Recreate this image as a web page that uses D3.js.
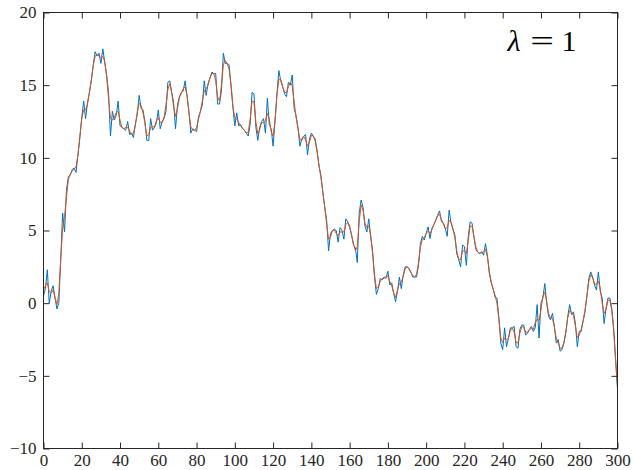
<!DOCTYPE html>
<html>
<head>
<meta charset="utf-8">
<script src="https://cdn.jsdelivr.net/npm/d3@7"></script>
<style>
  html, body { margin: 0; padding: 0; background: #fff; }
  svg { display: block; }
  .tick text { font-family: "Liberation Serif", "DejaVu Serif", serif; }
</style>
</head>
<body>
<svg id="chart" width="633" height="470"></svg>
<script>
// Noisy signal (blue) and its regularised estimate (orange), one value per sample 0..300
const noisy = [
  0.5, 1.0, 2.3, 0.0, 0.8, 1.2, 0.4, -0.4, 0.0, 3.0,
  6.2, 4.9, 7.8, 8.7, 8.8, 9.2, 9.3, 9.0, 10.2, 11.4,
  12.8, 13.9, 12.7, 13.8, 14.5, 15.3, 16.4, 17.3, 17.0, 17.2,
  16.5, 17.5, 16.6, 15.7, 14.5, 11.5, 13.2, 12.6, 12.9, 13.9,
  12.2, 12.1, 12.0, 11.9, 12.5, 11.6, 11.7, 11.4, 12.3, 13.0,
  14.3, 13.4, 13.3, 12.5, 11.2, 11.2, 12.7, 11.9, 12.1, 12.4,
  13.3, 12.0, 12.5, 12.7, 13.2, 15.2, 15.3, 14.5, 13.8, 12.0,
  13.6, 14.2, 14.5, 14.6, 15.3, 14.3, 13.2, 11.7, 12.0, 11.9,
  11.8, 12.8, 13.2, 13.6, 15.3, 14.3, 15.1, 15.5, 15.9, 15.8,
  15.8, 13.7, 13.7, 14.6, 17.2, 16.5, 16.5, 16.4, 15.0, 13.5,
  12.2, 13.1, 12.2, 12.3, 12.0, 11.9, 11.7, 11.5, 12.3, 14.5,
  14.4, 12.1, 11.2, 12.1, 12.5, 12.7, 11.7, 14.1, 12.3, 12.0,
  10.8, 12.5, 14.4, 16.0, 15.3, 14.9, 14.4, 14.2, 15.2, 15.0,
  15.7, 13.4, 12.9, 12.1, 10.8, 11.3, 11.5, 11.6, 10.2, 11.3,
  11.7, 11.5, 11.3, 10.5, 9.4, 8.8, 7.6, 6.6, 5.7, 3.6,
  4.8, 5.0, 5.1, 5.0, 4.2, 5.2, 5.0, 4.4, 5.8, 5.6,
  5.3, 4.7, 4.0, 3.8, 2.8, 6.2, 7.1, 6.6, 5.3, 4.9,
  5.8, 4.6, 3.6, 1.8, 0.6, 1.0, 1.7, 1.6, 1.8, 1.7,
  2.2, 1.25, 1.4, 0.7, 0.1, 0.8, 1.8, 1.0, 1.95, 2.5,
  2.5, 2.4, 2.15, 1.8, 1.8, 1.8, 2.6, 4.1, 4.6, 4.35,
  4.8, 5.25, 4.45, 5.15, 5.4, 5.7, 6.05, 6.35, 5.6, 5.5,
  5.15, 4.6, 6.4, 5.5, 5.1, 4.7, 3.4, 3.0, 2.5, 4.0,
  3.9, 2.6, 4.6, 5.6, 5.5, 4.5, 3.7, 3.5, 3.4, 3.55,
  3.3, 4.1, 3.3, 2.05, 1.4, 1.0, 0.4, 0.35, -1.0, -2.75,
  -3.2, -1.7, -3.0, -2.4, -1.7, -1.7, -1.6, -3.0, -3.1, -1.8,
  -1.5, -1.5, -2.2, -2.05, -1.8, -1.6, -1.95, -1.7, -0.1, -2.4,
  0.0, 0.35, 1.35, 0.0, -0.9, -1.15, -0.7, -1.6, -2.75, -2.5,
  -3.3, -3.2, -2.75, -2.05, -0.9, -0.1, -0.8, -0.6, -1.4, -3.0,
  -1.95, -1.95, -1.25, -0.6, 0.45, 1.7, 2.15, 1.8, 1.25, 0.9,
  2.15, 0.8, 0.35, -1.4, -0.35, 0.35, 0.35, -0.35, -1.7, -3.9,
  -5.9
];

const smoothed = [
  0.9, 1.2, 1.4, 0.8, 0.7, 0.9, 0.4, -0.1, 0.65, 3.05,
  5.1, 5.95, 7.3, 8.5, 8.9, 9.1, 9.2, 9.4, 10.2, 11.45,
  12.7, 13.3, 13.3, 13.7, 14.5, 15.4, 16.35, 17.0, 17.1, 17.0,
  16.9, 17.0, 16.6, 15.6, 14.05, 12.7, 12.6, 12.8, 13.1, 13.2,
  12.6, 12.1, 12.0, 12.1, 12.1, 11.85, 11.6, 11.7, 12.25, 13.15,
  13.75, 13.6, 13.1, 12.4, 11.5, 11.6, 12.1, 12.15, 12.1, 12.55,
  12.75, 12.45, 12.4, 12.8, 13.6, 14.7, 15.1, 14.5, 13.5, 12.85,
  13.35, 14.1, 14.45, 14.75, 14.9, 14.3, 13.1, 12.15, 11.9, 11.9,
  12.1, 12.65, 13.2, 13.9, 14.6, 14.75, 15.0, 15.5, 15.8, 15.8,
  15.3, 14.2, 13.9, 15.0, 16.4, 16.7, 16.5, 16.1, 15.0, 13.55,
  12.75, 12.65, 12.45, 12.2, 12.05, 11.9, 11.7, 11.75, 12.65, 13.9,
  13.85, 12.45, 11.65, 11.95, 12.45, 12.4, 12.55, 13.05, 12.7, 11.8,
  11.5, 12.55, 14.3, 15.4, 15.4, 14.9, 14.5, 14.5, 14.9, 15.2,
  14.95, 13.85, 12.8, 12.0, 11.25, 11.2, 11.5, 11.2, 10.8, 11.1,
  11.55, 11.5, 11.15, 10.4, 9.5, 8.65, 7.65, 6.6, 5.4, 4.4,
  4.55, 4.98, 5.05, 4.8, 4.65, 4.9, 4.9, 4.9, 5.4, 5.55,
  5.2, 4.7, 4.1, 3.6, 3.9, 5.6, 6.75, 6.4, 5.5, 5.2,
  5.3, 4.65, 3.4, 1.95, 1.0, 1.1, 1.5, 1.7, 1.7, 1.85,
  1.85, 1.5, 1.2, 0.7, 0.4, 0.9, 1.35, 1.45, 1.85, 2.35,
  2.5, 2.35, 2.1, 1.9, 1.8, 2.0, 2.8, 3.85, 4.4, 4.5,
  4.8, 4.95, 4.8, 5.05, 5.4, 5.7, 6.05, 6.1, 5.75, 5.45,
  5.1, 5.2, 5.7, 5.6, 5.1, 4.5, 3.6, 3.0, 3.0, 3.6,
  3.6, 3.4, 4.35, 5.3, 5.3, 4.55, 3.85, 3.5, 3.45, 3.45,
  3.55, 3.7, 3.2, 2.2, 1.45, 0.95, 0.55, 0.0, -1.1, -2.4,
  -2.7, -2.4, -2.5, -2.4, -1.9, -1.7, -2.0, -2.7, -2.75, -2.05,
  -1.6, -1.7, -2.0, -2.0, -1.8, -1.75, -1.8, -1.35, -1.1, -1.2,
  -0.5, 0.5, 0.75, 0.1, -0.75, -1.0, -1.05, -1.65, -2.4, -2.75,
  -3.1, -3.1, -2.7, -1.95, -1.0, -0.5, -0.6, -0.85, -1.6, -2.35,
  -2.2, -1.8, -1.25, -0.5, 0.5, 1.5, 1.95, 1.75, 1.3, 1.3,
  1.5, 1.0, 0.0, -0.7, -0.45, 0.2, 0.2, -0.5, -1.9, -3.85,
  -5.7
];

const xTicks = [0, 20, 40, 60, 80, 100, 120, 140, 160, 180, 200, 220, 240, 260, 280, 300];
const yTicks = [-10, -5, 0, 5, 10, 15, 20];
const xDomain = [0, 300];
const yDomain = [-10, 20];

const W = 633, H = 470;
const margin = { left: 43.5, right: 15.5, top: 12.5, bottom: 21.5 };
const axisColor = "#262626";
const fontFamily = '"Liberation Serif", "DejaVu Serif", serif';

const svg = d3.select("#chart");
const x = d3.scaleLinear().domain(xDomain).range([margin.left, W - margin.right]);
const y = d3.scaleLinear().domain(yDomain).range([H - margin.bottom, margin.top]);

const fmt = d => (d < 0 ? "\u2212" + Math.abs(d) : String(d));

// Data lines
const line = d3.line().x((d, i) => x(i)).y(d => y(d));
svg.append("path")
  .datum(noisy)
  .attr("fill", "none")
  .attr("stroke", "#0072BD")
  .attr("stroke-width", 1)
  .attr("stroke-linejoin", "round")
  .attr("d", line);
svg.append("path")
  .datum(smoothed)
  .attr("fill", "none")
  .attr("stroke", "#D95319")
  .attr("stroke-width", 1)
  .attr("stroke-linejoin", "round")
  .attr("d", line);

// Boxed axes with inward ticks on all four sides
const tickLen = 6;
function styleAxis(g, showText) {
  g.select(".domain").remove();
  g.selectAll(".tick line").attr("stroke", axisColor).attr("stroke-width", 1);
  g.selectAll(".tick text")
    .attr("fill", axisColor)
    .style("font-family", fontFamily)
    .style("font-size", "17px")
    .style("display", showText ? null : "none");
}

svg.append("g")
  .attr("transform", `translate(0,${H - margin.bottom})`)
  .call(d3.axisBottom(x).tickValues(xTicks).tickFormat(fmt).tickSizeInner(-tickLen).tickSizeOuter(0).tickPadding(5))
  .call(g => styleAxis(g, true));
svg.append("g")
  .attr("transform", `translate(0,${margin.top})`)
  .call(d3.axisTop(x).tickValues(xTicks).tickSizeInner(-tickLen).tickSizeOuter(0))
  .call(g => styleAxis(g, false));
svg.append("g")
  .attr("transform", `translate(${margin.left},0)`)
  .call(d3.axisLeft(y).tickValues(yTicks).tickFormat(fmt).tickSizeInner(-tickLen).tickSizeOuter(0).tickPadding(7))
  .call(g => styleAxis(g, true));
svg.append("g")
  .attr("transform", `translate(${W - margin.right},0)`)
  .call(d3.axisRight(y).tickValues(yTicks).tickSizeInner(-tickLen).tickSizeOuter(0))
  .call(g => styleAxis(g, false));

svg.append("rect")
  .attr("x", margin.left).attr("y", margin.top)
  .attr("width", W - margin.left - margin.right)
  .attr("height", H - margin.top - margin.bottom)
  .attr("fill", "none")
  .attr("stroke", axisColor)
  .attr("stroke-width", 1);

// Regularisation parameter label: italic lambda, a wide equals sign, then the value
const labelX = x(242.5), labelY = y(17.35);
const labelG = svg.append("g")
  .attr("fill", "#000")
  .style("font-family", fontFamily)
  .style("font-size", "30px");
labelG.append("text")
  .attr("x", labelX).attr("y", labelY)
  .style("font-style", "italic")
  .text("\u03bb");
labelG.append("text")
  .attr("transform", `translate(${labelX + 34.5},${labelY}) scale(1.4,1)`)
  .attr("text-anchor", "middle")
  .text("=");
labelG.append("text")
  .attr("x", labelX + 54).attr("y", labelY)
  .text("1");
</script>
</body>
</html>
